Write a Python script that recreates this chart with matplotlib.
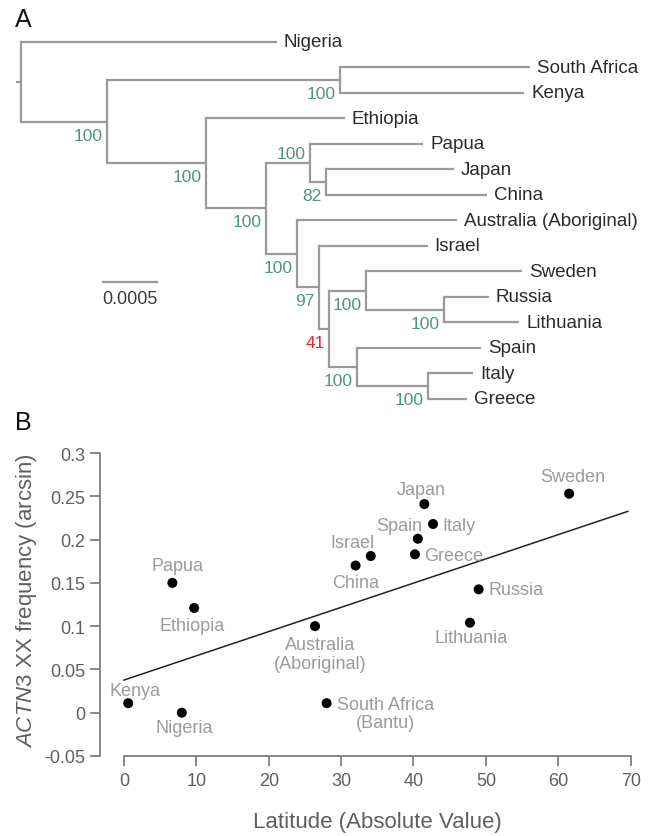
import matplotlib
matplotlib.use("Agg")
import matplotlib.pyplot as plt
import numpy as np

plt.rcParams['font.family'] = ['Liberation Sans', 'DejaVu Sans']
plt.rcParams['mathtext.fontset'] = 'custom'
plt.rcParams['mathtext.it'] = 'Liberation Sans:italic'
plt.rcParams['mathtext.rm'] = 'Liberation Sans'

# ---------------- Panel A data: tree ----------------
node_names = ['root', 'Nigeria', 'N1', 'Africa', 'South Africa', 'Kenya', 'N2', 'Ethiopia',
              'N3', 'N4', 'Papua', 'N5', 'Japan', 'China', 'N6', 'Australia (Aboriginal)',
              'N7', 'Israel', 'N8', 'N9', 'Sweden', 'N10', 'Russia', 'Lithuania',
              'N11', 'Spain', 'N12', 'Italy', 'Greece']
node_parents = [None, 'root', 'root', 'N1', 'Africa', 'Africa', 'N1', 'N2',
                 'N2', 'N3', 'N4', 'N4', 'N5', 'N5', 'N3', 'N6',
                 'N6', 'N7', 'N7', 'N8', 'N9', 'N9', 'N10', 'N10',
                 'N8', 'N11', 'N11', 'N12', 'N12']
branch_lengths = [0.000045, 0.002286, 0.000773, 0.002078, 0.001696, 0.001643, 0.000881, 0.001241,
                  0.000533, 0.000396, 0.001012, 0.000140, 0.001146, 0.001438, 0.000277, 0.001434,
                  0.000196, 0.000973, 0.000095, 0.000328, 0.001390, 0.000699, 0.000399, 0.000670,
                  0.000250, 0.001104, 0.000629, 0.000407, 0.000348]
leaf_order = ['Nigeria', 'South Africa', 'Kenya', 'Ethiopia', 'Papua', 'Japan', 'China',
              'Australia (Aboriginal)', 'Israel', 'Sweden', 'Russia', 'Lithuania',
              'Spain', 'Italy', 'Greece']
bootstrap_nodes = ['N1', 'Africa', 'N2', 'N3', 'N4', 'N5', 'N6', 'N7', 'N8', 'N9', 'N10', 'N11', 'N12']
bootstrap_values = [100, 100, 100, 100, 100, 82, 100, 97, 41, 100, 100, 100, 100]
scale_bar_length = 0.0005

# ---------------- Panel B data ----------------
populations = ['Kenya', 'Nigeria', 'Papua', 'Ethiopia', 'Australia\n(Aboriginal)',
               'South Africa\n(Bantu)', 'Japan', 'Italy', 'Spain', 'Greece', 'Israel',
               'China', 'Russia', 'Lithuania', 'Sweden']
latitude = [0.6, 8.0, 6.7, 9.7, 26.4, 28.0, 41.5, 42.7, 40.6, 40.2, 34.1, 32.0, 49.0, 47.8, 61.5]
xx_freq = [0.011, 0.000, 0.150, 0.121, 0.100, 0.011, 0.241, 0.218, 0.201, 0.183, 0.181,
           0.170, 0.1425, 0.104, 0.253]
fit_intercept = 0.0377
fit_slope = 0.0028
fit_x_range = [0.0, 69.6]
x_ticks = [0, 10, 20, 30, 40, 50, 60, 70]
y_ticks = [-0.05, 0, 0.05, 0.1, 0.15, 0.2, 0.25, 0.3]
y_tick_labels = ['-0.05', '0', '0.05', '0.1', '0.15', '0.2', '0.25', '0.3']

W, H = 650, 837
fig = plt.figure(figsize=(W / 100, H / 100), dpi=100)

# ---------------- Panel A ----------------
axA = fig.add_axes([0, (H - 420) / H, 1, 420 / H])
axA.axis('off')
k = 0.0005 / 56.0  # tree units per pixel
root_px = 20.7
leaf_y0_px, leaf_dy_px = 42.7, 25.52
axA.set_xlim(-root_px * k, (W - root_px) * k)
axA.set_ylim((420 - leaf_y0_px) / leaf_dy_px, -leaf_y0_px / leaf_dy_px)

parent = dict(zip(node_names, node_parents))
blen = dict(zip(node_names, branch_lengths))
children = {n: [] for n in node_names}
for n, p in zip(node_names, node_parents):
    if p is not None:
        children[p].append(n)

xpos = {}
for n in node_names:
    p = parent[n]
    xpos[n] = 0.0 if p is None else xpos[p] + blen[n]

ypos = {}
def get_y(n):
    if n in ypos:
        return ypos[n]
    if not children[n]:
        ypos[n] = float(leaf_order.index(n))
    else:
        ys = [get_y(c) for c in children[n]]
        ypos[n] = (min(ys) + max(ys)) / 2
    return ypos[n]
for n in node_names:
    get_y(n)

tree_col = '#9a9a9a'
tree_lw = 1.6
for n in node_names:
    p = parent[n]
    if p is None:
        axA.plot([-blen[n], 0], [ypos[n], ypos[n]], color=tree_col, lw=tree_lw, solid_capstyle='butt')
    else:
        axA.plot([xpos[p], xpos[n]], [ypos[n], ypos[n]], color=tree_col, lw=tree_lw, solid_capstyle='butt')
    if children[n]:
        ys = [ypos[c] for c in children[n]]
        axA.plot([xpos[n], xpos[n]], [min(ys), max(ys)], color=tree_col, lw=tree_lw, solid_capstyle='projecting')
    else:
        axA.annotate(n, (xpos[n], ypos[n]), xytext=(7, 0), textcoords='offset pixels',
                     ha='left', va='center', fontsize=13.5, color='#2b2b2b')

for n, v in zip(bootstrap_nodes, bootstrap_values):
    col = '#e8262b' if v < 50 else '#4f9482'
    dy = 9 if n == 'N4' else -13.5
    axA.annotate(str(v), (xpos[n], ypos[n]), xytext=(-4.5, dy), textcoords='offset pixels',
                 ha='right', va='center', fontsize=12.5, color=col)

sb_x0 = (102.3 - root_px) * k
sb_y = (282.7 - leaf_y0_px) / leaf_dy_px
axA.plot([sb_x0, sb_x0 + scale_bar_length], [sb_y, sb_y], color=tree_col, lw=tree_lw, solid_capstyle='butt')
axA.annotate('0.0005', (sb_x0 + scale_bar_length / 2, sb_y), xytext=(0, -17), textcoords='offset pixels',
             ha='center', va='center', fontsize=13, color='#3a3a3a')

fig.text(15 / W, 1 - 8 / H, 'A', fontsize=18, ha='left', va='top', color='#111111')
fig.text(15 / W, 1 - 411 / H, 'B', fontsize=18, ha='left', va='top', color='#111111')

# ---------------- Panel B ----------------
x_left_px, x_right_px = 100, 634.3
y_bottom_px, y_top_px = 757, 445
axB = fig.add_axes([x_left_px / W, (H - y_bottom_px) / H, (x_right_px - x_left_px) / W,
                    (y_bottom_px - y_top_px) / H])
axB.set_xlim(-3.3, 70.5)
axB.set_ylim(-0.05, 0.3104)
for s in ['top', 'right']:
    axB.spines[s].set_visible(False)
spine_col = '#808080'
for s in ['left', 'bottom']:
    axB.spines[s].set_color(spine_col)
    axB.spines[s].set_linewidth(1.3)
axB.spines['left'].set_bounds(-0.05, 0.3)
axB.spines['bottom'].set_bounds(0, 70)
axB.set_xticks(x_ticks)
axB.set_yticks(y_ticks)
axB.set_yticklabels(y_tick_labels)
axB.tick_params(axis='both', direction='out', length=7.2, width=1.3, color=spine_col,
                labelcolor='#5f5f5f', labelsize=13)
axB.tick_params(axis='x', pad=4)
axB.tick_params(axis='y', pad=3.6)

fx = np.array(fit_x_range)
axB.plot(fx, fit_intercept + fit_slope * fx, color='#222222', lw=1.1)
axB.scatter(latitude, xx_freq, s=52, color='black', zorder=3, edgecolors='none')

label_offsets = {
    'Kenya': (7, 13, 'center'), 'Nigeria': (2, -15, 'center'), 'Papua': (5, 17, 'center'),
    'Ethiopia': (-2, -18, 'center'), 'Australia\n(Aboriginal)': (5, -28, 'center'),
    'South Africa\n(Bantu)': (10, -10.5, 'left'), 'Japan': (-3, 15, 'center'),
    'Italy': (9, -2, 'left'), 'Spain': (4.6, 13, 'right'), 'Greece': (9, -1.5, 'left'),
    'Israel': (-18, 14, 'center'), 'China': (0, -17, 'center'), 'Russia': (10, 0, 'left'),
    'Lithuania': (1.5, -15, 'center'), 'Sweden': (4, 17, 'center'),
}
for name, xv, yv in zip(populations, latitude, xx_freq):
    dx, dy, ha = label_offsets[name]
    axB.annotate(name, (xv, yv), xytext=(dx, dy), textcoords='offset pixels', ha=ha, va='center',
                 multialignment='center', fontsize=13, color='#9b9b9b', linespacing=1.1)

axB.set_xlabel('Latitude (Absolute Value)', fontsize=16, color='#5f5f5f')
axB.set_ylabel(r'$\mathit{ACTN3}$ XX frequency (arcsin)', fontsize=16, color='#5f5f5f')
axB.xaxis.set_label_coords((377 - x_left_px) / (x_right_px - x_left_px), (y_bottom_px - 812) / (y_bottom_px - y_top_px))
axB.yaxis.set_label_coords((39 - x_left_px) / (x_right_px - x_left_px), (y_bottom_px - 601) / (y_bottom_px - y_top_px))

fig.savefig('out.png', dpi=100)
